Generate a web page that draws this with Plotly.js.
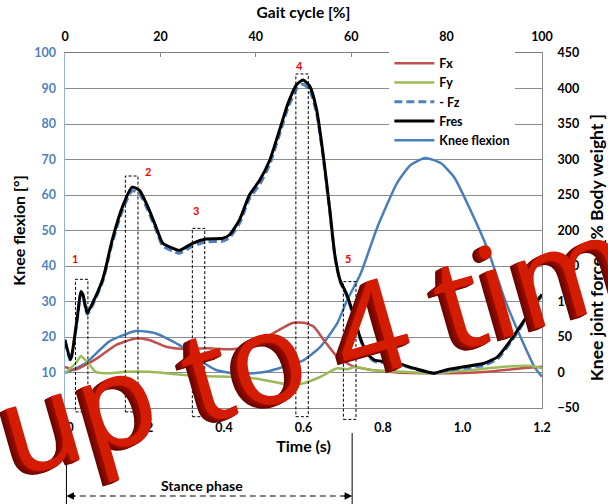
<!DOCTYPE html>
<html>
<head>
<meta charset="utf-8">
<script src="https://cdn.plot.ly/plotly-3.0.1.min.js"></script>
<style>html,body{margin:0;padding:0;background:#fff;}#chart{width:608px;height:504px;}</style>
</head>
<body>
<div id="chart"></div>
<script>
// ---------- data ----------
const timeTicks = [0, 0.2, 0.4, 0.6, 0.8, 1.0, 1.2];
const timeTickText = ['0.0', '0.2', '0.4', '0.6', '0.8', '1.0', '1.2'];
const gaitTicks = [0, 20, 40, 60, 80, 100];
const flexTicks = [10, 20, 30, 40, 50, 60, 70, 80, 90, 100];
const forceTicks = [-50, 0, 50, 100, 150, 200, 250, 300, 350, 400, 450];

const timeKnee = [0.000, 0.052, 0.111, 0.178, 0.229, 0.288, 0.338, 0.380, 0.439, 0.506, 0.565, 0.601, 0.643, 0.685, 0.710, 0.744, 0.786, 0.836, 0.870, 0.906, 0.945, 0.979, 1.021, 1.063, 1.105, 1.148, 1.181, 1.200];
const kneeFlexion = [9.8, 12.6, 18.7, 21.7, 21.0, 17.7, 13.5, 10.7, 9.6, 10.2, 12.1, 13.5, 17.3, 23.9, 30.4, 37.9, 51.0, 63.5, 68.5, 70.4, 69.0, 65.0, 55.5, 44.8, 31.0, 19.5, 11.6, 8.8];

const timeFres = [0.000, 0.014, 0.031, 0.040, 0.045, 0.056, 0.077, 0.094, 0.101, 0.119, 0.145, 0.169, 0.187, 0.208, 0.229, 0.246, 0.271, 0.288, 0.321, 0.355, 0.397, 0.414, 0.439, 0.464, 0.490, 0.515, 0.540, 0.561, 0.582, 0.599, 0.616, 0.633, 0.649, 0.666, 0.679, 0.692, 0.708, 0.725, 0.742, 0.759, 0.777, 0.836, 0.878, 0.929, 0.954, 1.004, 1.055, 1.088, 1.122, 1.156, 1.189, 1.200];
const fres = [46, 18, 78, 114, 110, 84, 107, 130, 144, 187, 234, 261, 257, 234, 205, 182, 175, 172, 182, 188, 189, 194, 215, 250, 271, 299, 342, 379, 405, 412, 403, 370, 309, 230, 165, 130, 111, 83, 50, 28, 18, 13, 6, -1, 3, 8, 13, 22, 46, 74, 102, 110];
const fzNeg = [44, 16, 76, 112, 108, 82, 104, 127, 141, 183, 229, 256, 252, 229, 201, 178, 171, 168, 178, 184, 185, 190, 210, 245, 265, 293, 336, 373, 399, 406, 397, 365, 305, 227, 163, 128, 109, 81, 48, 26, 16, 12, 5, -1, 2, 6, 10, 19, 43, 72, 100, 108];

const timeFx = [0.000, 0.023, 0.052, 0.086, 0.128, 0.178, 0.212, 0.254, 0.305, 0.355, 0.421, 0.472, 0.523, 0.574, 0.601, 0.626, 0.651, 0.685, 0.727, 0.811, 0.937, 1.063, 1.148, 1.200];
const fx = [8, 3.5, 10.6, 22, 38.7, 48, 45.8, 36.3, 33, 34, 32.7, 38.7, 55, 70, 70, 64.5, 45.8, 22.3, 8.2, 1.1, -1.1, 1.1, 5.9, 8.2];

const timeFy = [0.000, 0.027, 0.040, 0.056, 0.077, 0.111, 0.153, 0.212, 0.271, 0.338, 0.422, 0.473, 0.523, 0.574, 0.601, 0.643, 0.685, 0.710, 0.731, 0.769, 0.853, 0.929, 1.021, 1.105, 1.173, 1.200];
const fy = [-1, 13, 23, 15, 1, -1, 1, 1, -2, -5, -6, -8, -13, -17.6, -15, -6, 6, 4.5, 8.2, 3.5, 1, -1, 3.5, 8.2, 9.2, 6];

const seriesNames = ['Fx', 'Fy', '- Fz', 'Fres', 'Knee flexion'];
const boxLabels = ['1', '2', '3', '4', '5'];

// ---------- styling ----------
const FONT = 'Lato, "Open Sans", sans-serif';
const bold = (size, color) => ({family: FONT, size: size, color: color || '#000', weight: 700});
const LS = {shape: 'spline', smoothing: 0.55};

const traces = [
  {x: timeFx, y: fx, name: seriesNames[0], yaxis: 'y2', mode: 'lines',
   line: Object.assign({color: '#c0504d', width: 2.5}, LS)},
  {x: timeFy, y: fy, name: seriesNames[1], yaxis: 'y2', mode: 'lines',
   line: Object.assign({color: '#9bbb59', width: 2.5}, LS)},
  {x: timeFres, y: fzNeg, name: seriesNames[2], yaxis: 'y2', mode: 'lines',
   line: Object.assign({color: '#4f81bd', width: 3, dash: '8px,4px'}, LS)},
  {x: timeFres, y: fres, name: seriesNames[3], yaxis: 'y2', mode: 'lines',
   line: Object.assign({color: '#000000', width: 3}, LS)},
  {x: timeKnee, y: kneeFlexion, name: seriesNames[4], yaxis: 'y', mode: 'lines',
   line: Object.assign({color: '#4a7ebb', width: 2.5}, LS)},
  {x: gaitTicks, y: gaitTicks.map(() => null), xaxis: 'x2', yaxis: 'y', mode: 'lines',
   showlegend: false, hoverinfo: 'skip'}
];

// boxes in paper coordinates
const boxX0 = [0.022, 0.1265, 0.267, 0.484, 0.5836];
const boxX1 = [0.048, 0.153, 0.293, 0.510, 0.610];
const boxTop = [0.3625, 0.6535, 0.506, 0.941, 0.356];
const boxBottom = [-0.011, -0.011, -0.0245, -0.0245, -0.032];
const labelX = [0.020, 0.1733, 0.2756, 0.491, 0.594];
const labelY = [0.4217, 0.6676, 0.555, 0.9634, 0.4217];

const shapes = [];
const annotations = [];
for (let i = 0; i < boxLabels.length; i++) {
  shapes.push({type: 'rect', xref: 'paper', yref: 'paper', x0: boxX0[i], x1: boxX1[i], y0: boxBottom[i], y1: boxTop[i],
    line: {color: '#000', width: 1, dash: '3px,2px'}, fillcolor: 'rgba(0,0,0,0)'});
  annotations.push({xref: 'paper', yref: 'paper', x: labelX[i], y: labelY[i], text: boxLabels[i], showarrow: false,
    font: bold(11, '#ff0000'), xanchor: 'center', yanchor: 'middle'});
}
// stance phase markers
shapes.push({type: 'line', xref: 'paper', yref: 'paper', x0: 0.003, x1: 0.003, y0: -0.105, y1: -0.28, line: {color: '#000', width: 1}});
shapes.push({type: 'line', xref: 'paper', yref: 'paper', x0: 0.602, x1: 0.602, y0: -0.0705, y1: -0.28, line: {color: '#000', width: 1}});
shapes.push({type: 'line', xref: 'paper', yref: 'paper', x0: 0.010, x1: 0.594, y0: -0.248, y1: -0.248, line: {color: '#595959', width: 1.5, dash: '6px,4px'}});
annotations.push({xref: 'paper', yref: 'paper', x: 0.003, y: -0.248, ax: 10, ay: 0, text: '', showarrow: true,
  arrowhead: 2, arrowsize: 1, arrowwidth: 1.5, arrowcolor: '#000'});
annotations.push({xref: 'paper', yref: 'paper', x: 0.602, y: -0.248, ax: -10, ay: 0, text: '', showarrow: true,
  arrowhead: 2, arrowsize: 1, arrowwidth: 1.5, arrowcolor: '#000'});
annotations.push({xref: 'paper', yref: 'paper', x: 0.288, y: -0.218, text: 'Stance phase', showarrow: false,
  font: bold(14), xanchor: 'center', yanchor: 'middle'});
// right axis title
annotations.push({xref: 'paper', yref: 'paper', x: 1.1145, y: 0.452, text: 'Knee joint forces [% Body weight ]', showarrow: false,
  textangle: -90, font: bold(17.5), xanchor: 'center', yanchor: 'middle'});

// overlay banner text
const bannerText = 'up to 4 tim';
const bannerFont = '"Open Sans", "DejaVu Sans", sans-serif';
const shadowCols = ['#680600', '#6f0700', '#770800', '#800900', '#880a00', '#910b00', '#9b0c00'];
for (let k = 7; k >= 1; k--) {
  annotations.push({xref: 'paper', yref: 'paper', x: 0.522, y: 0.189, xshift: -k, yshift: -0.5 * k,
    text: bannerText, showarrow: false, textangle: -16,
    font: {family: bannerFont, size: 128, color: shadowCols[7 - k], weight: 500}, xanchor: 'center', yanchor: 'middle'});
}
annotations.push({xref: 'paper', yref: 'paper', x: 0.522, y: 0.189, text: bannerText, showarrow: false, textangle: -16,
  font: {family: bannerFont, size: 128, color: '#d41c02', weight: 500}, xanchor: 'center', yanchor: 'middle'});

const layout = {
  width: 608, height: 504,
  margin: {l: 65, r: 66, t: 53, b: 96, pad: 0},
  paper_bgcolor: '#fff', plot_bgcolor: '#fff',
  showlegend: true,
  legend: {x: 0.68, y: 1.012, xanchor: 'left', yanchor: 'top', bgcolor: '#fff', borderwidth: 0,
    font: bold(12.5), tracegroupgap: 0, itemwidth: 40},
  xaxis: {range: [0, 1.2], tickvals: timeTicks, ticktext: timeTickText, showgrid: false, zeroline: false,
    showline: true, linecolor: '#868686', linewidth: 1, ticks: '', tickfont: bold(12.5), ticklabelstandoff: 8,
    title: {text: 'Time (s)', font: bold(16), standoff: 6}},
  xaxis2: {overlaying: 'x', anchor: 'y', side: 'top', range: [0, 100], tickvals: gaitTicks, showgrid: false, zeroline: false,
    showline: true, linecolor: '#7f7f7f', linewidth: 1.5, ticks: 'inside', ticklen: 4, tickcolor: '#868686',
    tickfont: bold(12.5), ticklabelstandoff: 6, title: {text: 'Gait cycle [%]', font: bold(15.5), standoff: 6}},
  yaxis: {range: [0, 100], tickvals: flexTicks, showgrid: true, gridcolor: '#8c8c8c', gridwidth: 1, zeroline: false,
    showline: true, linecolor: '#95b3d7', linewidth: 1.5, ticks: '', tickfont: bold(12.5, '#4f81bd'), ticklabelstandoff: 5,
    title: {text: 'Knee flexion [°]', font: bold(16), standoff: 4}},
  yaxis2: {overlaying: 'y', side: 'right', anchor: 'x', range: [-50, 450], tickvals: forceTicks, showgrid: false, zeroline: false,
    showline: true, linecolor: '#868686', linewidth: 1, ticks: '', tickfont: bold(12.5), ticklabelstandoff: 12},
  shapes: shapes,
  annotations: annotations
};

Plotly.newPlot('chart', traces, layout, {displayModeBar: false, staticPlot: true});
</script>
</body>
</html>
